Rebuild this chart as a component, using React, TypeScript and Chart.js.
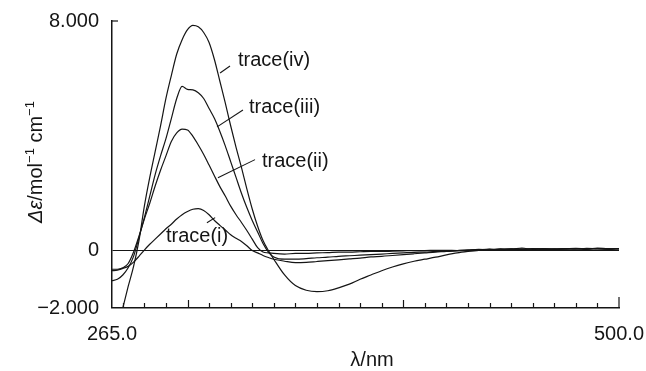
import React, { useEffect, useRef } from "react";
import { Chart, registerables } from "chart.js";

Chart.register(...registerables);

const lambda = [265, 267.5, 270, 272.5, 275, 277.5, 280, 282.5, 285, 287.5, 290, 292.5, 295, 297.5, 300, 302.5, 305, 307.5, 310, 312.5, 315, 317.5, 320, 322.5, 325, 327.5, 330, 332.5, 335, 337.5, 340, 345, 350, 355, 360, 365, 370, 375, 380, 385, 390, 395, 400, 405, 410, 415, 420, 425, 430, 435, 440, 445, 450, 455, 460, 465, 470, 475, 480, 485, 490, 495, 500];

const traceIV = [null, null, -2.0, -1.25, -0.55, 0.35, 1.55, 2.55, 3.45, 4.35, 5.3, 6.1, 6.85, 7.35, 7.7, 7.85, 7.8, 7.6, 7.25, 6.65, 5.9, 5.15, 4.35, 3.6, 2.9, 2.15, 1.45, 0.85, 0.35, 0.0, -0.3, -0.85, -1.22, -1.38, -1.43, -1.4, -1.3, -1.17, -1.0, -0.85, -0.7, -0.57, -0.46, -0.37, -0.3, -0.23, -0.15, -0.08, -0.03, 0.01, 0.03, 0.05, 0.04, 0.06, 0.05, 0.07, 0.05, 0.06, 0.08, 0.06, 0.07, 0.06, 0.07];
const traceIII = [-1.05, -1.0, -0.85, -0.6, -0.2, 0.45, 1.15, 1.9, 2.65, 3.3, 3.9, 4.6, 5.3, 5.72, 5.62, 5.6, 5.5, 5.3, 4.95, 4.6, 4.15, 3.65, 3.1, 2.55, 2.0, 1.5, 1.05, 0.65, 0.25, -0.05, -0.22, -0.3, -0.3, -0.28, -0.25, -0.23, -0.2, -0.18, -0.16, -0.14, -0.12, -0.1, -0.08, -0.06, -0.05, -0.03, -0.02, 0.0, 0.02, 0.04, 0.03, 0.06, 0.05, 0.09, 0.04, 0.06, 0.05, 0.07, 0.05, 0.08, 0.06, 0.05, 0.07];
const traceII = [-0.65, -0.65, -0.6, -0.45, -0.05, 0.5, 1.1, 1.65, 2.25, 2.8, 3.3, 3.8, 4.1, 4.23, 4.2, 3.98, 3.68, 3.35, 2.98, 2.6, 2.23, 1.9, 1.55, 1.25, 0.98, 0.7, 0.4, 0.1, -0.05, -0.08, -0.1, -0.12, -0.1, -0.1, -0.08, -0.07, -0.05, -0.05, -0.04, -0.03, -0.03, -0.02, -0.01, 0.0, 0.0, 0.01, 0.01, 0.0, 0.01, 0.03, 0.05, 0.02, 0.06, 0.04, 0.07, 0.05, 0.04, 0.06, 0.07, 0.05, 0.09, 0.06, 0.07];
const traceI = [-0.7, -0.68, -0.62, -0.55, -0.4, -0.2, 0.02, 0.22, 0.4, 0.58, 0.76, 0.92, 1.1, 1.25, 1.36, 1.44, 1.46, 1.4, 1.25, 1.05, 0.88, 0.72, 0.55, 0.43, 0.32, 0.17, 0.0, -0.08, -0.17, -0.24, -0.3, -0.37, -0.42, -0.41, -0.38, -0.35, -0.32, -0.29, -0.26, -0.22, -0.2, -0.17, -0.14, -0.11, -0.08, -0.05, -0.03, 0.0, 0.02, 0.01, 0.04, 0.03, 0.05, 0.03, 0.06, 0.04, 0.06, 0.05, 0.06, 0.04, 0.07, 0.05, 0.06];

const xTicks = [265, 500];
const xTickLabels = ["265.0", "500.0"];
const yTicks = [-2, 0, 8];
const yTickLabels = ["\u22122.000", "0", "8.000"];
const xMinorTicks = [270, 280, 290, 300, 310, 320, 330, 340, 350, 360, 370, 380, 390, 400, 410, 420, 430, 440, 450, 460, 470, 480, 490];
const xMajorMinor = [300, 400];

const labelTexts = ["trace(iv)", "trace(iii)", "trace(ii)", "trace(i)"];
const labelLambda = [323.4, 328.5, 334.5, 290];
const labelValue = [6.64, 5.0, 3.1, 0.49];
const pointerFromLambda = [315.1, 313.7, 314.1, 309];
const pointerFromValue = [6.19, 4.31, 2.54, 0.97];
const pointerToLambda = [319.7, 325.7, 331.3, 312.8];
const pointerToValue = [6.43, 4.9, 3.17, 1.15];

const FONT = "'Liberation Sans', Arial, Helvetica, sans-serif";
const INK = "#151515";

function pts(vals: (number | null)[]) {
  return lambda.map((x, i) => ({ x, y: vals[i] }));
}

const decorPlugin = {
  id: "decor",
  afterDraw(chart: any) {
    const ctx = chart.ctx;
    const xs = chart.scales.x;
    const ys = chart.scales.y;
    const area = chart.chartArea;
    ctx.save();
    ctx.strokeStyle = INK;
    ctx.lineWidth = 1.2;
    xMinorTicks.forEach((v) => {
      const px = Math.round(xs.getPixelForValue(v)) + 0.5;
      const len = xMajorMinor.includes(v) ? 8 : 5;
      ctx.beginPath();
      ctx.moveTo(px, area.bottom);
      ctx.lineTo(px, area.bottom - len);
      ctx.stroke();
    });
    const pe = xs.getPixelForValue(xTicks[1]);
    ctx.beginPath();
    ctx.moveTo(pe, area.bottom);
    ctx.lineTo(pe, area.bottom - 11);
    ctx.stroke();
    const pt = ys.getPixelForValue(yTicks[2]);
    ctx.beginPath();
    ctx.moveTo(area.left, pt);
    ctx.lineTo(area.left + 6, pt);
    ctx.stroke();

    ctx.fillStyle = INK;
    ctx.font = `20px ${FONT}`;
    ctx.textAlign = "left";
    ctx.textBaseline = "middle";
    ctx.lineWidth = 1.1;
    labelTexts.forEach((t, i) => {
      ctx.fillText(t, xs.getPixelForValue(labelLambda[i]), ys.getPixelForValue(labelValue[i]));
      ctx.beginPath();
      ctx.moveTo(xs.getPixelForValue(pointerFromLambda[i]), ys.getPixelForValue(pointerFromValue[i]));
      ctx.lineTo(xs.getPixelForValue(pointerToLambda[i]), ys.getPixelForValue(pointerToValue[i]));
      ctx.stroke();
    });

    ctx.textAlign = "center";
    ctx.textBaseline = "alphabetic";
    ctx.font = `20px ${FONT}`;
    ctx.fillText("\u03bb/nm", 372, 366);

    ctx.translate(42, 162);
    ctx.rotate(-Math.PI / 2);
    const parts = [
      { t: "\u0394\u03b5", f: `italic 20px ${FONT}`, dy: 0 },
      { t: "/mol", f: `20px ${FONT}`, dy: 0 },
      { t: "\u22121", f: `13px ${FONT}`, dy: -8 },
      { t: " cm", f: `20px ${FONT}`, dy: 0 },
      { t: "\u22121", f: `13px ${FONT}`, dy: -8 },
    ];
    let total = 0;
    parts.forEach((p) => {
      ctx.font = p.f;
      total += ctx.measureText(p.t).width;
    });
    let cx = -total / 2;
    ctx.textAlign = "left";
    parts.forEach((p) => {
      ctx.font = p.f;
      ctx.fillText(p.t, cx, p.dy);
      cx += ctx.measureText(p.t).width;
    });
    ctx.restore();
  },
};

export default function App() {
  const ref = useRef<HTMLCanvasElement | null>(null);
  useEffect(() => {
    if (!ref.current) return;
    const mk = (vals: (number | null)[]) => ({
      data: pts(vals),
      borderColor: INK,
      borderWidth: 1.2,
      pointRadius: 0,
      fill: false,
      tension: 0.35,
      cubicInterpolationMode: "monotone" as const,
      spanGaps: false,
    });
    const chart = new Chart(ref.current, {
      type: "line",
      data: {
        datasets: [mk(traceI), mk(traceII), mk(traceIII), mk(traceIV)],
      },
      options: {
        animation: false,
        responsive: false,
        devicePixelRatio: 1,
        layout: { padding: { top: 21, right: 27, left: 0, bottom: 0 } },
        plugins: { legend: { display: false }, tooltip: { enabled: false } },
        scales: {
          x: {
            type: "linear",
            min: 265,
            max: 500,
            afterBuildTicks: (s: any) => {
              s.ticks = xTicks.map((v) => ({ value: v }));
            },
            afterFit: (s: any) => {
              s.height = 63;
              s.paddingLeft = 0;
              s.paddingRight = 0;
            },
            ticks: {
              autoSkip: false,
              maxRotation: 0,
              padding: 14,
              color: INK,
              font: { family: FONT, size: 20 },
              callback: (v: any) => {
                const i = xTicks.indexOf(Number(v));
                return i >= 0 ? xTickLabels[i] : "";
              },
            },
            grid: { display: false, drawTicks: false },
            border: { display: true, color: INK, width: 1.5 },
          },
          y: {
            type: "linear",
            min: -2,
            max: 8,
            afterBuildTicks: (s: any) => {
              s.ticks = yTicks.map((v) => ({ value: v }));
            },
            afterFit: (s: any) => {
              s.width = 112;
              s.paddingTop = 0;
              s.paddingBottom = 0;
            },
            ticks: {
              autoSkip: false,
              padding: 13,
              color: INK,
              font: { family: FONT, size: 20 },
              callback: (v: any) => {
                const i = yTicks.indexOf(Number(v));
                return i >= 0 ? yTickLabels[i] : "";
              },
            },
            grid: {
              display: true,
              drawTicks: false,
              lineWidth: 1.1,
              color: (c: any) => (c.tick && c.tick.value === 0 ? INK : "rgba(0,0,0,0)"),
            },
            border: { display: true, color: INK, width: 1.5 },
          },
        },
      },
      plugins: [decorPlugin],
    });
    return () => chart.destroy();
  }, []);
  return (
    <div style={{ position: "absolute", left: 0, top: 0, width: 646, height: 371, background: "#fff" }}>
      <canvas ref={ref} width={646} height={371} style={{ width: 646, height: 371, display: "block" }} />
    </div>
  );
}
